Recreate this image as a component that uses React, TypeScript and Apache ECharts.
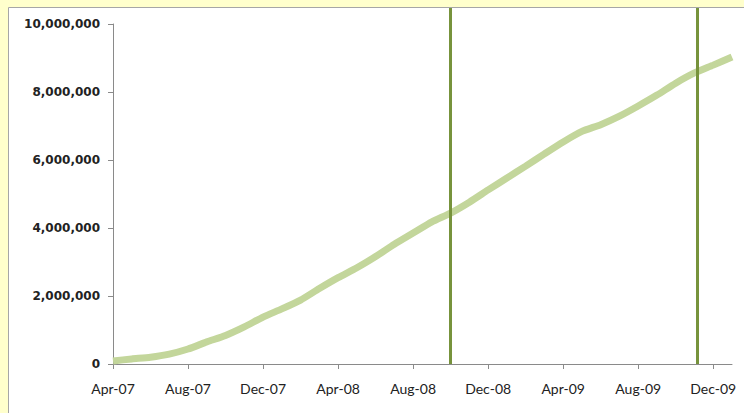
import React, { useEffect, useRef } from "react";
import * as echarts from "echarts";

const months: string[] = [
  "Apr-07", "May-07", "Jun-07", "Jul-07", "Aug-07", "Sep-07", "Oct-07", "Nov-07", "Dec-07",
  "Jan-08", "Feb-08", "Mar-08", "Apr-08", "May-08", "Jun-08", "Jul-08", "Aug-08", "Sep-08",
  "Oct-08", "Nov-08", "Dec-08", "Jan-09", "Feb-09", "Mar-09", "Apr-09", "May-09", "Jun-09",
  "Jul-09", "Aug-09", "Sep-09", "Oct-09", "Nov-09", "Dec-09", "Jan-10",
];

const totals: number[] = [
  90000, 150000, 200000, 290000, 440000, 650000, 840000, 1090000, 1380000,
  1620000, 1880000, 2220000, 2540000, 2830000, 3160000, 3520000, 3850000, 4180000,
  4440000, 4760000, 5120000, 5470000, 5820000, 6180000, 6530000, 6840000, 7040000,
  7290000, 7590000, 7910000, 8260000, 8560000, 8790000, 9030000,
];

// vertical marker positions, in months after Apr-07 (Oct-08 and early Nov-09)
const markerOffsets: number[] = [17.97, 31.15];

const yTicks = { min: 0, max: 10000000, interval: 2000000 };

export default function App() {
  const ref = useRef<HTMLDivElement>(null);
  useEffect(() => {
    if (!ref.current) return;
    const chart = echarts.init(ref.current, undefined, { renderer: "svg" });
    const axisColor = "#8a8a8a";
    chart.setOption({
      animation: false,
      graphic: [
        {
          type: "rect",
          z: -10,
          silent: true,
          shape: { x: 8.5, y: 7.5, width: 800, height: 500 },
          style: { fill: "#ffffff", stroke: "#a6a6a6", lineWidth: 1 },
        },
      ],
      grid: [
        { left: 113, right: 12, top: 24, bottom: 49, containLabel: false },
        { left: 113, right: 12, top: 8, bottom: 49, containLabel: false },
      ],
      xAxis: [
        {
          type: "category",
          gridIndex: 0,
          data: months,
          boundaryGap: false,
          axisLine: { lineStyle: { color: axisColor, width: 1 } },
          axisTick: { show: true, interval: 3, length: 5, lineStyle: { color: axisColor } },
          axisLabel: {
            interval: 3,
            margin: 17,
            color: "#222",
            fontFamily: "Lato",
            fontSize: 14,
          },
          splitLine: { show: false },
        },
        {
          type: "value",
          gridIndex: 1,
          min: 0,
          max: months.length - 1,
          show: false,
        },
      ],
      yAxis: [
        {
          type: "value",
          gridIndex: 0,
          min: yTicks.min,
          max: yTicks.max,
          interval: yTicks.interval,
          axisLine: { show: true, lineStyle: { color: axisColor, width: 1 } },
          axisTick: { show: true, length: 5, lineStyle: { color: axisColor } },
          splitLine: { show: false },
          axisLabel: {
            margin: 13,
            color: "#222",
            fontFamily: "DejaVu Sans",
            fontWeight: "bold",
            fontSize: 12,
            formatter: (v: number) => v.toLocaleString("en-US"),
          },
        },
        { type: "value", gridIndex: 1, min: 0, max: 1, show: false },
      ],
      series: [
        {
          type: "line",
          xAxisIndex: 0,
          yAxisIndex: 0,
          data: totals,
          showSymbol: false,
          symbol: "none",
          smooth: 0.2,
          lineStyle: { color: "#c3d69b", width: 7, cap: "butt" },
          z: 2,
        },
        {
          type: "line",
          xAxisIndex: 1,
          yAxisIndex: 1,
          data: [],
          symbol: "none",
          z: 5,
          markLine: {
            silent: true,
            symbol: ["none", "none"],
            label: { show: false },
            lineStyle: { color: "#77933c", width: 3, type: "solid" },
            data: markerOffsets.map((m) => ({ xAxis: m })),
          },
        },
      ],
    });
    return () => chart.dispose();
  }, []);
  return (
    <div
      style={{
        position: "fixed",
        left: 0,
        top: 0,
        width: 744,
        height: 413,
        background: "#ffffcc",
        overflow: "hidden",
      }}
    >
      <div ref={ref} style={{ width: 744, height: 413 }} />
    </div>
  );
}
